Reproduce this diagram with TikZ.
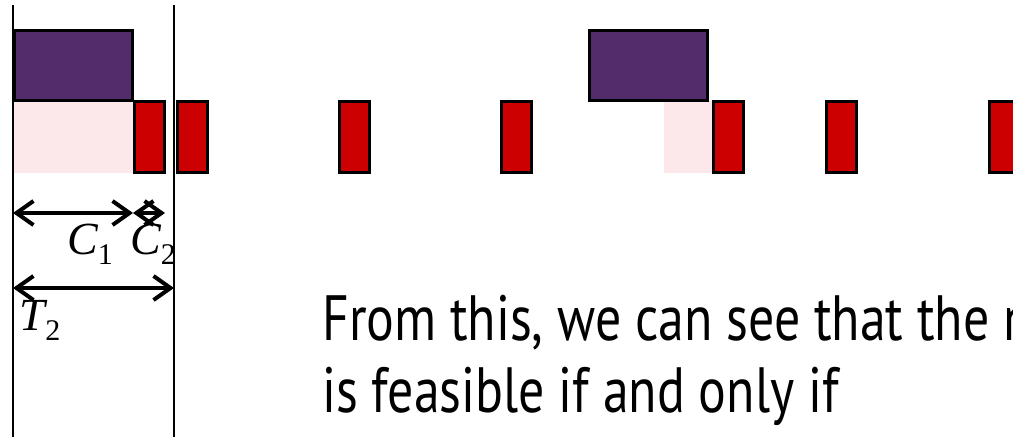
\documentclass[tikz,border=0pt]{standalone}
\usepackage{fontspec}
\usetikzlibrary{arrows.meta,positioning}
\newfontfamily\slidefont[FakeStretch=0.81]{PT Sans}
\newfontfamily\labelfont{Liberation Serif}
\definecolor{jobpurple}{HTML}{532D6B}
\definecolor{jobred}{HTML}{CC0000}
\definecolor{idlepink}{HTML}{FCE8EA}
\newcommand{\dimsym}[2]{{\itshape #1}\raisebox{-0.22em}{\fontsize{30}{30}\selectfont #2}}
\tikzset{
  longjob/.style={draw=black,fill=jobpurple,line width=3pt},
  shortjob/.style={draw=black,fill=jobred,line width=3pt},
  idle/.style={fill=idlepink},
  frameline/.style={draw=black,line width=1.8pt},
  dimarrow/.style={{Straight Barb[length=17pt,width=24pt]}-{Straight Barb[length=17pt,width=24pt]},
                   line width=4pt,draw=black},
  dimlabel/.style={font=\fontsize{46}{50}\labelfont,inner sep=0pt},
  slidetext/.style={font=\fontsize{64}{72}\slidefont,align=left,inner sep=0pt}
}
\begin{document}
\begin{tikzpicture}[x=1pt,y=-1pt]
  \useasboundingbox (0,0) rectangle (1013,437);
  \clip (0,0) rectangle (1013,437);
  % idle parts of the period
  \fill[idle] (13,101) rectangle (133,173);
  \fill[idle] (664,101) rectangle (712,173);
  % long task
  \foreach \xa in {14.5,589.5}
    \draw[longjob] (\xa,30) rectangle ++(118,70);
  % short task
  \foreach \xa in {134.5,177.5,339.5,501.5,713.5,826.5,989.5}
    \draw[shortjob] (\xa,101.5) rectangle ++(30,71);
  % period boundaries
  \coordinate (top0) at (13,5);
  \coordinate (bot0) at (13,437);
  \coordinate (top1) at (174,5);
  \coordinate (bot1) at (174,437);
  \draw[frameline] (top0) -- (bot0);
  \draw[frameline] (top1) -- (bot1);
  % dimensions
  \coordinate (c1a) at (13,213);
  \coordinate (c1b) at (133,213);
  \coordinate (c2b) at (165,213);
  \coordinate (t2a) at (13,288);
  \coordinate (t2b) at (174,288);
  \draw[dimarrow] (c1a) -- (c1b);
  \draw[dimarrow] (c1b) -- (c2b);
  \draw[dimarrow] (t2a) -- (t2b);
  \node[dimlabel] (c1) at (90,244) {\dimsym{C}{1}};
  \node[dimlabel] (c2) at (153,244) {\dimsym{C}{2}};
  \node[dimlabel] (t2) at (40,320) {\dimsym{T}{2}};
  \node[slidetext,anchor=base west] (note) at (322,412)
    {From this, we can see that the n\\is feasible if and only if};
\end{tikzpicture}
\end{document}
